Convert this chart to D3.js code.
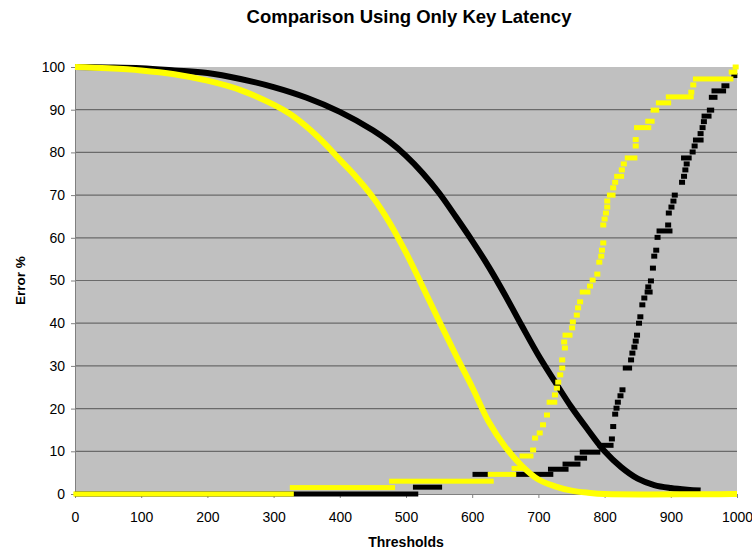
<!DOCTYPE html>
<html>
<head>
<meta charset="utf-8">
<script src="https://cdn.jsdelivr.net/npm/d3@7"></script>
<style>
  body { margin: 0; background: #fff; }
  text { font-family: Arial, "Liberation Sans", sans-serif; fill: #000; }
</style>
</head>
<body>
<svg id="chart" width="752" height="552"></svg>
<script>
// Axis ticks
const xTicks = [0, 100, 200, 300, 400, 500, 600, 700, 800, 900, 1000];
const yTicks = [0, 10, 20, 30, 40, 50, 60, 70, 80, 90, 100];

// Falling error curves: [threshold, error %]
const blackFalling = [[0,100],[50,99.9],[100,99.7],[150,99.2],[200,98.6],[250,97.2],[300,95.3],[350,92.8],
  [400,89.5],[450,85.2],[475,82.5],[500,79.2],[525,75.2],[550,70.5],[575,65],[600,59.3],[625,53.2],[650,46.5],
  [675,39.4],[700,32.5],[725,26.3],[750,20.3],[775,15],[800,10],[825,6.3],[850,3.6],[875,2.1],[900,1.4],
  [925,1.0],[945,0.8]];

const yellowFalling = [[0,100],[50,99.7],[100,99.2],[150,98.3],[200,96.8],[250,94.6],[300,91.2],[325,89],
  [350,86],[375,82.4],[400,78.3],[425,74.2],[450,69.5],[475,63.6],[500,56.5],[525,48.6],[550,40.5],
  [575,32.6],[600,25],[625,16.9],[650,11],[675,6.6],[700,3.4],[725,1.8],[750,0.8],[775,0.3],[800,0],[1000,0]];

// Rising error curves, as runs of markers: [first threshold, last threshold, error %]
const blackRising = [[4,514,0],[515,550,1.6],[605,620,4.6],[670,718,4.6],[719,741,5.8],[741,759,7],
  [759,769,8.4],[767,789,9.8],[794,809,11.4],[811,811,12.9],[813,813,15.8],[816,816,18.7],[818,818,20.1],
  [820,820,21.5],[824,824,23],[827,827,24.4],[832,837,29.5],[840,840,31.4],[842,842,33],[845,845,34.4],
  [847,847,35.8],[849,849,37.2],[852,852,40],[854,854,41.5],[857,857,44.3],[860,860,45.9],[865,868,47.3],
  [866,866,48.5],[870,870,49.9],[873,873,52.9],[875,875,55.7],[878,878,57.1],[880,880,60.1],[883,898,61.6],
  [896,896,63],[897,897,65.8],[901,901,67.2],[904,904,68.6],[906,906,70],[917,917,73],[920,920,74.4],
  [922,922,75.9],[924,924,77.3],[920,927,78.7],[933,933,80.1],[936,936,81.5],[938,945,82.9],[945,945,84.4],
  [948,948,85.8],[950,950,87.2],[951,957,88.5],[959,961,89.9],[962,966,92.9],[966,979,94.4],[981,984,95.6],
  [996,996,98]];

const yellowRising = [[2,326,0],[329,479,1.5],[479,628,3],[628,662,4.6],[664,676,6],[676,688,8.9],
  [692,692,10.3],[695,695,13.1],[702,702,14.3],[707,707,16.2],[713,713,18.5],[717,724,21.5],[725,725,23.2],
  [728,728,24.8],[730,730,26.2],[733,733,27.9],[736,736,29.5],[736,736,31.4],[740,740,34.2],[739,739,35.6],
  [741,747,37.2],[751,751,38.9],[752,752,40.3],[758,758,41.9],[760,760,43.6],[763,763,45],[767,774,47.3],
  [778,778,48.7],[782,782,50.1],[789,789,51.5],[792,792,54.3],[795,795,55.7],[796,796,57.1],[798,798,58.8],
  [798,798,63],[800,800,64.4],[802,802,65.8],[804,804,67.2],[804,804,68.6],[808,812,70],[813,813,71.7],
  [816,816,73],[819,825,74.4],[826,826,75.9],[829,829,77.3],[835,845,78.7],[847,847,81.5],[847,847,83],
  [849,866,85.8],[866,871,87.3],[874,878,89.9],[882,896,91.6],[897,930,93],[931,931,94.1],[934,934,95.8],
  [938,990,97.2],[992,996,98.8],[998,998,100]];

const svg = d3.select("#chart");
const plot = { left: 75, right: 737, top: 67, bottom: 494 };

const x = d3.scaleLinear().domain([0, 1000]).range([plot.left, plot.right]);
const y = d3.scaleLinear().domain([0, 100]).range([plot.bottom, plot.top]);

// Plot background
svg.append("rect")
  .attr("x", plot.left).attr("y", plot.top)
  .attr("width", plot.right - plot.left).attr("height", plot.bottom - plot.top)
  .attr("fill", "#c0c0c0");

// Horizontal gridlines
svg.append("g").selectAll("line")
  .data(yTicks.filter(d => d > 0 && d < 100))
  .join("line")
  .attr("x1", plot.left).attr("x2", plot.right)
  .attr("y1", d => y(d)).attr("y2", d => y(d))
  .attr("stroke", "#6a6a6a").attr("stroke-width", 1.2);

// Y axis
const yAxis = svg.append("g")
  .attr("transform", `translate(${plot.left},0)`)
  .call(d3.axisLeft(y).tickValues(yTicks).tickFormat(d3.format("d")).tickSize(4).tickPadding(6));
yAxis.select(".domain").attr("stroke", "#808080");
yAxis.selectAll(".tick line").attr("stroke", "#808080");
yAxis.selectAll("text").style("font-size", "14px").attr("fill", "#000");

// X axis
const xAxis = svg.append("g")
  .attr("transform", `translate(0,${plot.bottom})`)
  .call(d3.axisBottom(x).tickValues(xTicks).tickFormat(d3.format("d")).tickSize(4).tickPadding(14));
xAxis.select(".domain").attr("stroke", "#808080");
xAxis.selectAll(".tick line").attr("stroke", "#808080");
xAxis.selectAll("text").style("font-size", "14px").attr("fill", "#000");

const line = d3.line().curve(d3.curveCatmullRom.alpha(0.5)).x(d => x(d[0])).y(d => y(d[1]));
const mw = 6, mh = 5;

function drawFalling(data, color) {
  svg.append("path")
    .datum(data)
    .attr("d", line)
    .attr("fill", "none")
    .attr("stroke", color)
    .attr("stroke-width", 6)
    .attr("stroke-linejoin", "round");
}

function drawRising(data, color) {
  svg.append("g").selectAll("rect")
    .data(data)
    .join("rect")
    .attr("x", d => x(d[0]) - mw / 2)
    .attr("width", d => x(d[1]) - x(d[0]) + mw)
    .attr("y", d => y(d[2]) - mh / 2)
    .attr("height", mh)
    .attr("fill", color);
}

drawFalling(blackFalling, "#000000");
drawRising(blackRising, "#000000");
drawFalling(yellowFalling, "#ffff00");
drawRising(yellowRising, "#ffff00");

// Titles
svg.append("text")
  .attr("x", 409).attr("y", 23)
  .attr("text-anchor", "middle")
  .style("font-size", "18.5px").style("font-weight", "bold")
  .text("Comparison Using Only Key Latency");

svg.append("text")
  .attr("x", 406).attr("y", 547)
  .attr("text-anchor", "middle")
  .style("font-size", "14px").style("font-weight", "bold")
  .text("Thresholds");

svg.append("text")
  .attr("transform", `translate(25,${(plot.top + plot.bottom) / 2}) rotate(-90)`)
  .attr("text-anchor", "middle")
  .style("font-size", "13.5px").style("font-weight", "bold")
  .text("Error %");
</script>
</body>
</html>
